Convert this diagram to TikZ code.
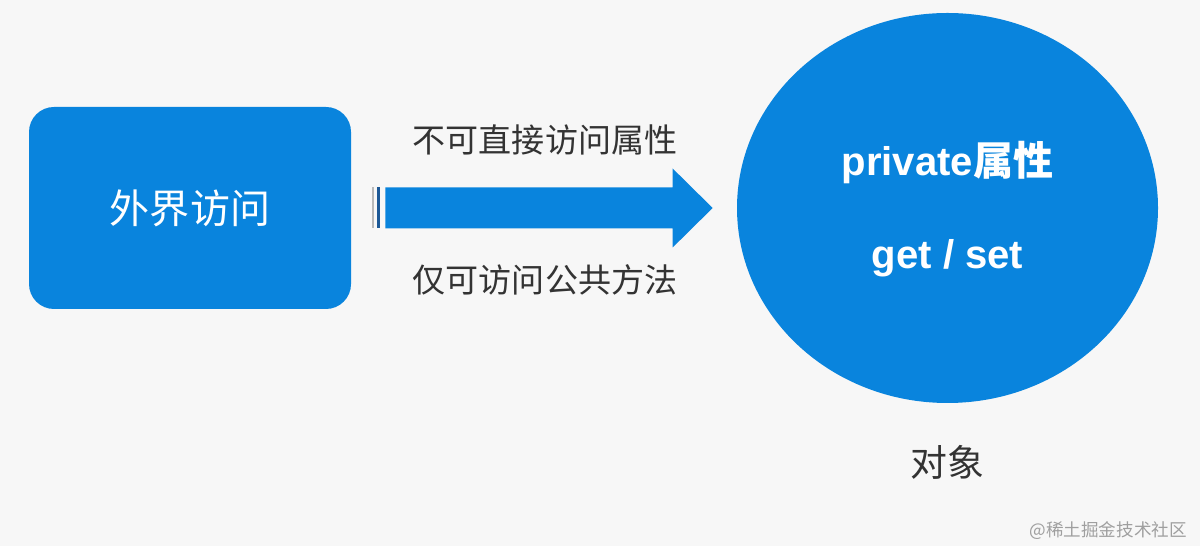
\documentclass[tikz,border=0pt]{standalone}
\usepackage{fontspec}
\setsansfont{Liberation Sans}
\newfontfamily\cjk{Noto Sans CJK SC}
\usepackage{xcolor}
\usepackage{tikz}
\usetikzlibrary{shapes,arrows,positioning,calc}
\definecolor{objblue}{RGB}{9,132,221}
\definecolor{stripeblue}{RGB}{28,88,150}
\definecolor{pagegray}{RGB}{247,247,247}
\definecolor{textgray}{RGB}{51,51,51}

\begin{document}
\begin{tikzpicture}[node distance=6cm, auto]
  % Define styles
  \tikzstyle{outer} = [rectangle, fill=objblue, rounded corners=0.5cm, minimum width=6.44cm, minimum height=4.04cm, text=white, font=\cjk\fontsize{22.8}{26}\selectfont]
  \tikzstyle{object} = [ellipse, fill=objblue, minimum width=8.42cm, minimum height=7.8cm, inner sep=0pt]
  \tikzstyle{inner} = [text=white, font=\sffamily\bfseries\fontsize{22.8}{26}\selectfont]
  \tikzstyle{label} = [text=textgray, font=\cjk\fontsize{18.8}{22}\selectfont]
  \tikzstyle{blockarrow} = [fill=objblue]

  % Page
  \fill[pagegray] (0,0) rectangle (24,10.92);
  \useasboundingbox (0,0) rectangle (24,10.92);

  % Main components
  \node [outer] (outside) at (3.8,6.76) {外界访问};
  \node [object] (obj) at (18.95,6.76) {};
  \node [inner, above of=obj, node distance=0.9cm] (priv) {private{\cjk\bfseries 属性}};
  \node [inner, below of=obj, node distance=1cm] (getset) {get / set};
  \node [label, below of=obj, node distance=5.08cm, font=\cjk\fontsize{21}{24}\selectfont] (objname) {对象};

  % Block arrow between them
  \coordinate (tail) at ($(outside.east)+(0.68,0)$);
  \coordinate (tip) at ($(obj.west)+(-0.48,0)$);
  \coordinate (mid) at ($(tail)!0.5!(tip)+(-0.08,0)$);
  \fill [blockarrow] ($(tail)+(0,0.41)$) -- ($(tip)+(-0.8,0.41)$) -- ($(tip)+(-0.8,0.79)$) -- (tip)
    -- ($(tip)+(-0.8,-0.79)$) -- ($(tip)+(-0.8,-0.41)$) -- ($(tail)+(0,-0.41)$) -- cycle;
  \draw [gray!55, line width=1.1pt] ($(tail)+(-0.24,0.41)$) -- ($(tail)+(-0.24,-0.41)$);
  \draw [stripeblue, line width=1.7pt] ($(tail)+(-0.14,0.41)$) -- ($(tail)+(-0.14,-0.41)$);

  % Labels on the arrow
  \node [label, above of=mid, node distance=1.36cm] (nodirect) {不可直接访问属性};
  \node [label, below of=mid, node distance=1.44cm] (onlypublic) {仅可访问公共方法};

  % Watermark
  \node [anchor=east, text=gray!75, font=\cjk\fontsize{10}{12}\selectfont] (mark) at (23.86,0.3) {@稀土掘金技术社区};

\end{tikzpicture}
\end{document}
